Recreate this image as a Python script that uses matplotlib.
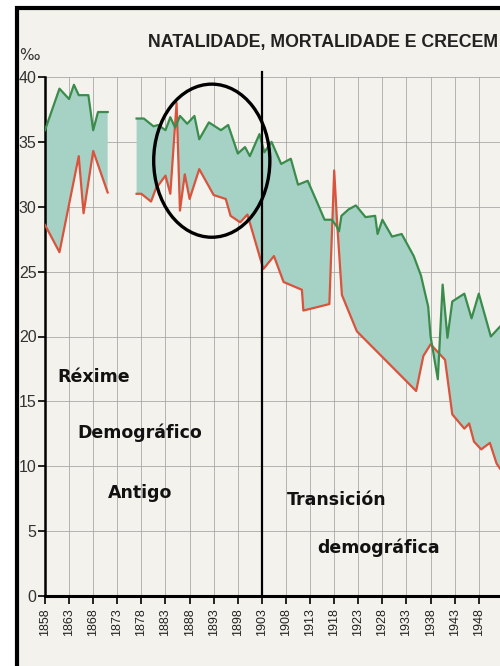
import matplotlib.pyplot as plt
import numpy as np
from matplotlib.patches import Ellipse, Rectangle

# natalidade (green) and mortalidade (red), per mil, two runs of data
nat1_years = [1858, 1861, 1863, 1864, 1865, 1867, 1868, 1869, 1871]
nat1 = [35.9, 39.1, 38.3, 39.4, 38.6, 38.6, 35.9, 37.3, 37.3]
mort1_years = [1858, 1861, 1865, 1866, 1868, 1871]
mort1 = [28.6, 26.5, 33.9, 29.5, 34.3, 31.1]

nat2_years = [1877, 1878.5, 1880.5, 1881.5, 1883, 1884, 1885, 1886, 1887.5, 1889,
              1890, 1892, 1894.5, 1896, 1898, 1899.5, 1900.5, 1902.5, 1903.5, 1905,
              1907, 1909, 1910.5, 1912.5, 1914.5, 1916, 1917.5, 1918.5, 1919, 1919.5,
              1921, 1922.5, 1924.5, 1926.5, 1927, 1928, 1930, 1932, 1934.5, 1936,
              1937.5, 1938, 1939.5, 1940.5, 1941.5, 1942.5, 1945, 1946.5, 1948, 1950.5,
              1953]
nat2 = [36.8, 36.8, 36.2, 36.3, 35.9, 36.9, 36.1, 37.0, 36.4, 37.0,
        35.2, 36.5, 35.9, 36.3, 34.1, 34.6, 33.9, 35.6, 34.2, 35.0,
        33.3, 33.7, 31.7, 32.0, 30.3, 29.0, 29.0, 28.5, 28.1, 29.3,
        29.8, 30.1, 29.2, 29.3, 27.9, 29.0, 27.7, 27.9, 26.2, 24.7,
        22.3, 20.0, 16.7, 24.0, 19.9, 22.7, 23.3, 21.4, 23.3, 20.0,
        21.0]
mort2_years = [1877, 1878, 1880, 1881, 1883, 1884, 1885.3, 1886, 1887, 1888,
               1890, 1893, 1895.5, 1896.5, 1898.5, 1900, 1903.3, 1905.5, 1907.5, 1911.3,
               1911.6, 1917, 1918, 1918.6, 1919.6, 1922.7, 1935, 1936.5, 1938, 1941,
               1942.5, 1945, 1946, 1947, 1948.5, 1950.3, 1951.7, 1953]
mort2 = [31.0, 31.0, 30.4, 31.4, 32.4, 31.0, 38.0, 29.7, 32.5, 30.6,
         32.9, 30.9, 30.6, 29.3, 28.8, 29.4, 25.2, 26.2, 24.2, 23.6,
         22.0, 22.5, 32.8, 28.8, 23.2, 20.4, 15.8, 18.5, 19.4, 18.2,
         14.0, 12.9, 13.3, 11.9, 11.3, 11.8, 10.2, 9.5]

years_ticks = np.arange(1858, 1953, 5)

bg = '#f3f2ec'
green = '#3b8c4c'
red = '#d9533d'
fill = '#a6d2c6'

fig = plt.figure(figsize=(5, 6.66), dpi=100)
fig.patch.set_facecolor('white')
fig.patches.append(Rectangle((16.5 / 500, -0.01), 1.0, (666 - 8) / 666 + 0.01,
                             transform=fig.transFigure, facecolor=bg,
                             edgecolor='black', linewidth=3, zorder=-5))

ax = fig.add_axes([45 / 500, 70 / 666, 455 / 500, 519 / 666])
ax.set_facecolor('none')
ax.set_xlim(1858, 1952.4)
ax.set_ylim(0, 40)

for gx, gy, rx, ry in [(nat1_years, nat1, mort1_years, mort1),
                       (nat2_years, nat2, mort2_years, mort2)]:
    ax.fill(np.concatenate([gx, rx[::-1]]), np.concatenate([gy, ry[::-1]]),
            color=fill, linewidth=0, zorder=2)
    ax.plot(gx, gy, color=green, linewidth=1.6, zorder=4)
    ax.plot(rx, ry, color=red, linewidth=1.6, zorder=3)

ax.set_xticks(years_ticks)
ax.set_xticklabels([str(y) for y in years_ticks], rotation=90,
                   fontsize=9, family='Liberation Sans', color='#222222')
ax.set_yticks(range(0, 41, 5))
ax.set_yticklabels([str(v) for v in range(0, 41, 5)], fontsize=11.5,
                   family='Liberation Sans', color='#333333')
ax.tick_params(axis='x', direction='out', length=6, width=1.2, pad=3)
ax.tick_params(axis='y', direction='out', length=5, width=1.2, pad=1)
ax.grid(True, color='#a8a8a8', linewidth=0.6, zorder=1)
ax.set_axisbelow(True)

for s in ['top', 'right']:
    ax.spines[s].set_visible(False)
ax.spines['left'].set_linewidth(1.8)
ax.spines['bottom'].set_linewidth(2.2)

ax.plot([1903, 1903], [0, 40.4], color='black', linewidth=1.6, zorder=5,
        clip_on=False)
ax.add_patch(Ellipse((1892.6, 33.55), 24.1, 11.8, fill=False, edgecolor='black',
                     linewidth=2.4, zorder=6, clip_on=False))

lab = dict(fontsize=12.5, fontweight='bold', family='DejaVu Sans', va='center',
           color='#111111')
ax.text(1860.5, 16.9, 'Réxime', **lab)
ax.text(1864.8, 12.6, 'Demográfico', **lab)
ax.text(1871.1, 7.95, 'Antigo', **lab)
ax.text(1908.2, 7.4, 'Transición', **lab)
ax.text(1914.4, 3.7, 'demográfica', **lab)

fig.text(19 / 500, 1 - 56 / 666, '‰', fontsize=11, family='DejaVu Sans',
         va='center', ha='left', color='#333333')
fig.text(148 / 500, 1 - 43 / 666, 'NATALIDADE, MORTALIDADE E CRECEM',
         fontsize=12.8, fontweight='bold', family='Liberation Sans',
         va='center', ha='left', color='#222222')

fig.savefig('out.png', dpi=100, facecolor=fig.get_facecolor())
